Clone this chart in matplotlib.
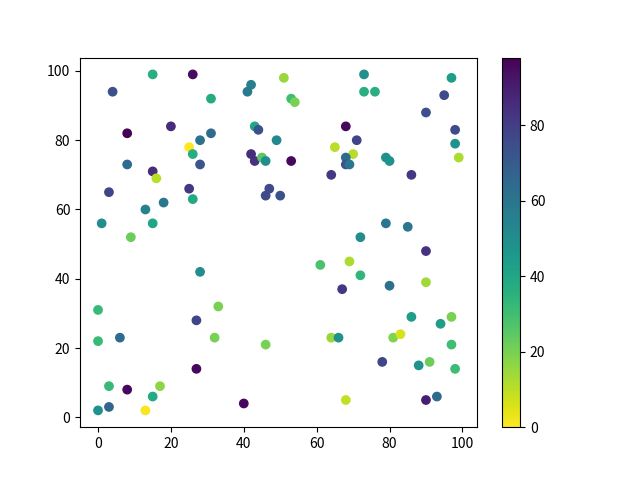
import matplotlib
matplotlib.use("Agg")
import matplotlib.pyplot as plt
import numpy as np

plt.rcParams['font.family'] = ['Noto Sans CJK SC', 'DejaVu Sans']

# values
x = [15, 26, 4, 31, 42, 41, 51, 53, 54, 73, 73, 76, 97, 95, 90,
     8, 20, 31, 28, 25, 26, 43, 44, 49, 42, 43, 45, 46,
     68, 71, 65, 70, 68, 68, 69, 79, 80, 98, 98, 99, 53, 64, 86,
     8, 28, 15, 16, 3, 25, 26, 18, 13, 1, 15, 9, 47, 46, 50,
     79, 85, 72, 90, 61, 69, 72, 67, 80, 90,
     28, 33, 0, 27, 6, 0, 32, 46, 27, 3, 8, 17, 15, 0, 3, 13, 40,
     86, 97, 94, 64, 66, 81, 83, 97, 78, 88, 91, 98, 68, 90, 93]
y = [99, 99, 94, 92, 96, 94, 98, 92, 91, 99, 94, 94, 98, 93, 88,
     82, 84, 82, 80, 78, 76, 84, 83, 80, 76, 74, 75, 74,
     84, 80, 78, 76, 75, 73, 73, 75, 74, 83, 79, 75, 74, 70, 70,
     73, 73, 71, 69, 65, 66, 63, 62, 60, 56, 56, 52, 66, 64, 64,
     56, 55, 52, 48, 44, 45, 41, 37, 38, 39,
     42, 32, 31, 28, 23, 22, 23, 21, 14, 9, 8, 9, 6, 2, 3, 2, 4,
     29, 29, 27, 23, 23, 23, 24, 21, 16, 15, 16, 14, 5, 5, 6]
c = [36, 95, 74, 38, 56, 58, 15, 30, 20, 49, 36, 36, 44, 76, 74,
     98, 86, 64, 61, 0, 37, 40, 74, 52, 85, 84, 25, 50,
     96, 78, 10, 11, 64, 72, 60, 48, 48, 76, 48, 12, 96, 82, 82,
     64, 72, 86, 10, 78, 82, 39, 59, 54, 50, 40, 22, 76, 76, 74,
     60, 60, 50, 84, 28, 12, 34, 82, 62, 14,
     50, 20, 32, 78, 64, 32, 20, 20, 96, 32, 96, 17, 38, 48, 66, 1, 96,
     44, 20, 44, 15, 48, 19, 6, 30, 78, 48, 22, 31, 9, 90, 65]

fig, ax = plt.subplots(figsize=(6.4, 4.8), dpi=100)
sc = ax.scatter(x, y, c=c, cmap='viridis_r')
fig.colorbar(sc)

plt.savefig("out.png")
